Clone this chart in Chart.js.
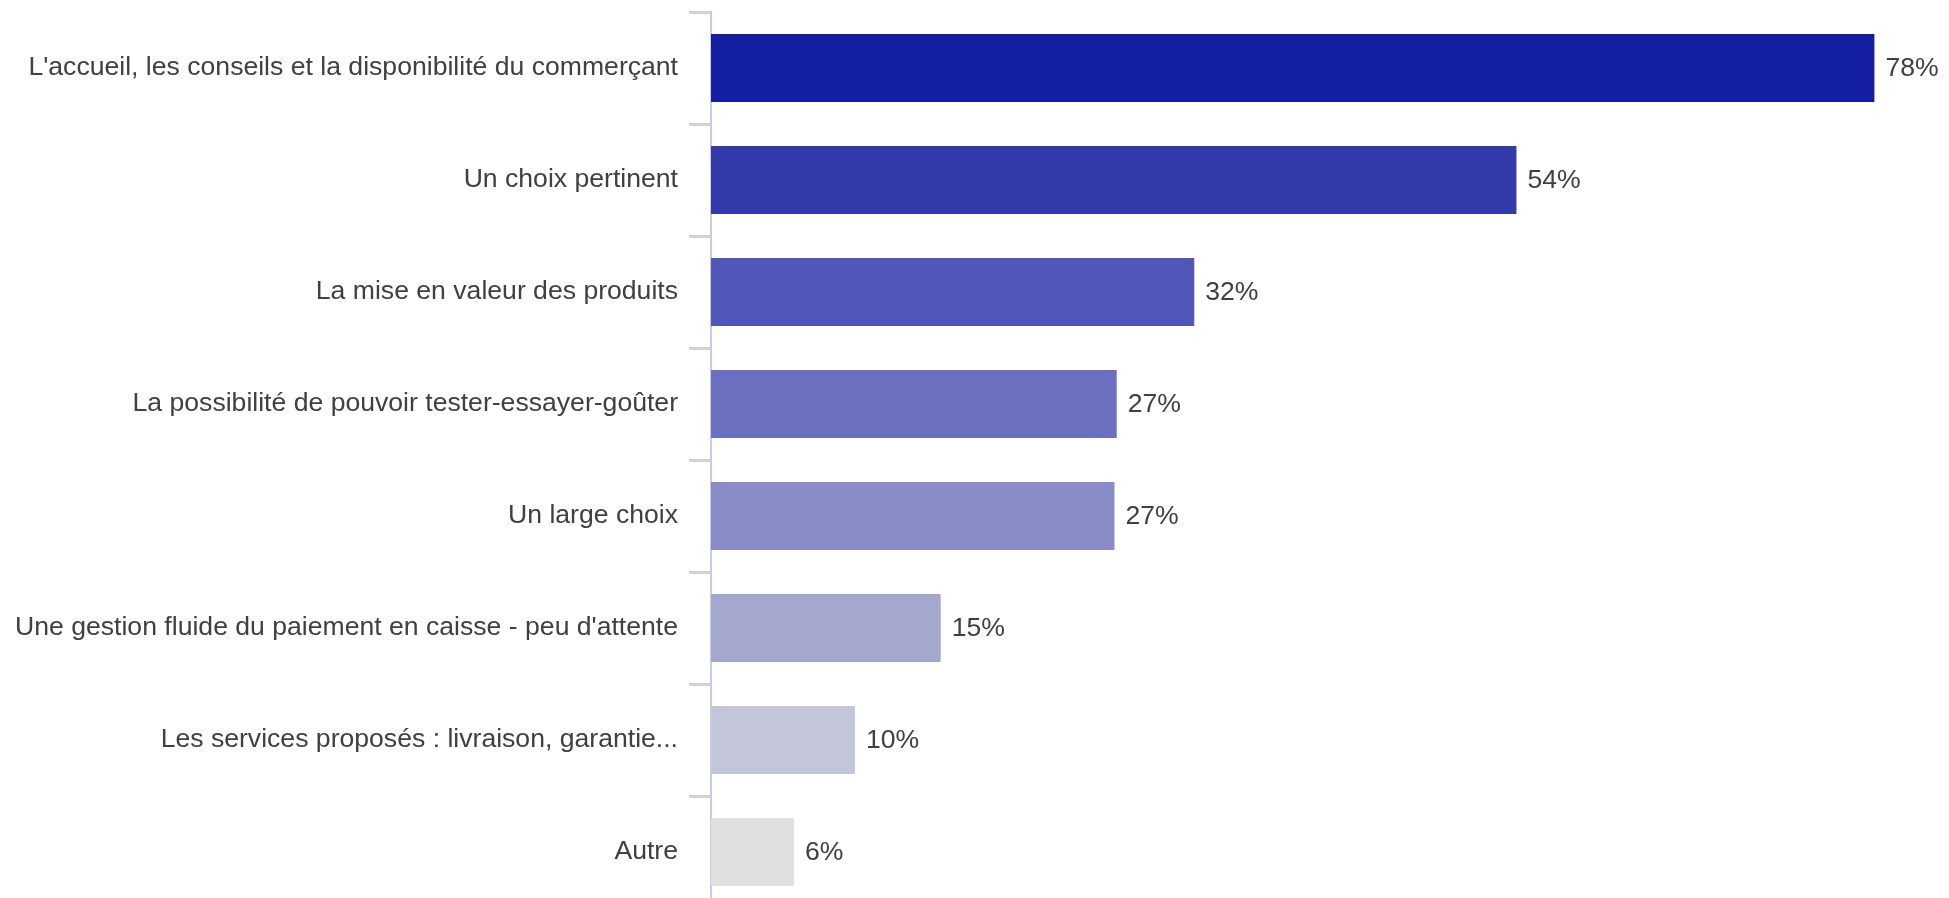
<!DOCTYPE html>
<html lang="fr">
<head>
  <meta charset="UTF-8">
  <title>Critères de choix du commerce</title>
  <style>
    body { margin: 0; background: #fff; overflow: hidden; }
    #wrap { width: 1949px; height: 910px; position: relative; }
  </style>
</head>
<body>
<div id="wrap"><canvas id="chart"></canvas></div>

<script src="https://cdn.jsdelivr.net/npm/chart.js"></script>
<script>
// Données
const categories = [
  "L'accueil, les conseils et la disponibilité du commerçant",
  "Un choix pertinent",
  "La mise en valeur des produits",
  "La possibilité de pouvoir tester-essayer-goûter",
  "Un large choix",
  "Une gestion fluide du paiement en caisse - peu d'attente",
  "Les services proposés : livraison, garantie...",
  "Autre"
];
const values = [78, 54, 32.4, 27.2, 27.05, 15.4, 9.65, 5.56];
const valueLabels = ["78%", "54%", "32%", "27%", "27%", "15%", "10%", "6%"];
const barColors = ["#141ea0", "#333aaa", "#5057b8", "#6b70c0", "#898cc7", "#a5a8ce", "#c3c5da", "#e0e0e0"];

const textFont = "'Liberation Sans', Arial, sans-serif";

// étiquettes à droite des barres
const valueLabelPlugin = {
  id: 'valueLabels',
  afterDatasetsDraw(chart) {
    const ctx = chart.ctx;
    const meta = chart.getDatasetMeta(0);
    ctx.save();
    ctx.font = "26.6px " + textFont;
    ctx.fillStyle = "#404040";
    ctx.textAlign = "left";
    ctx.textBaseline = "middle";
    meta.data.forEach((bar, i) => {
      ctx.fillText(valueLabels[i], bar.x + 11, bar.y + 1);
    });
    ctx.restore();
  }
};

new Chart(document.getElementById("chart"), {
  type: 'bar',
  data: {
    labels: categories,
    datasets: [{
      data: values,
      backgroundColor: barColors,
      borderWidth: 0,
      categoryPercentage: 1,
      barPercentage: 0.607
    }]
  },
  options: {
    indexAxis: 'y',
    responsive: true,
    maintainAspectRatio: false,
    animation: false,
    layout: { padding: { top: 12, right: 0, bottom: 2, left: 0 } },
    plugins: {
      legend: { display: false },
      tooltip: { enabled: false }
    },
    scales: {
      x: { display: false, min: 0, max: 83 },
      y: {
        afterFit(scale) {
          scale.width = 711;
          scale.paddingTop = 0;
          scale.paddingBottom = 0;
        },
        border: { display: true, color: '#c5cbe8', width: 2 },
        grid: {
          offset: true,
          drawOnChartArea: false,
          drawTicks: true,
          tickLength: 22,
          color: '#ccd1e8',
          lineWidth: 3
        },
        ticks: {
          color: '#404040',
          padding: 11,
          font: { family: textFont, size: 26.6 }
        }
      }
    }
  },
  plugins: [valueLabelPlugin]
});
</script>
</body>
</html>
